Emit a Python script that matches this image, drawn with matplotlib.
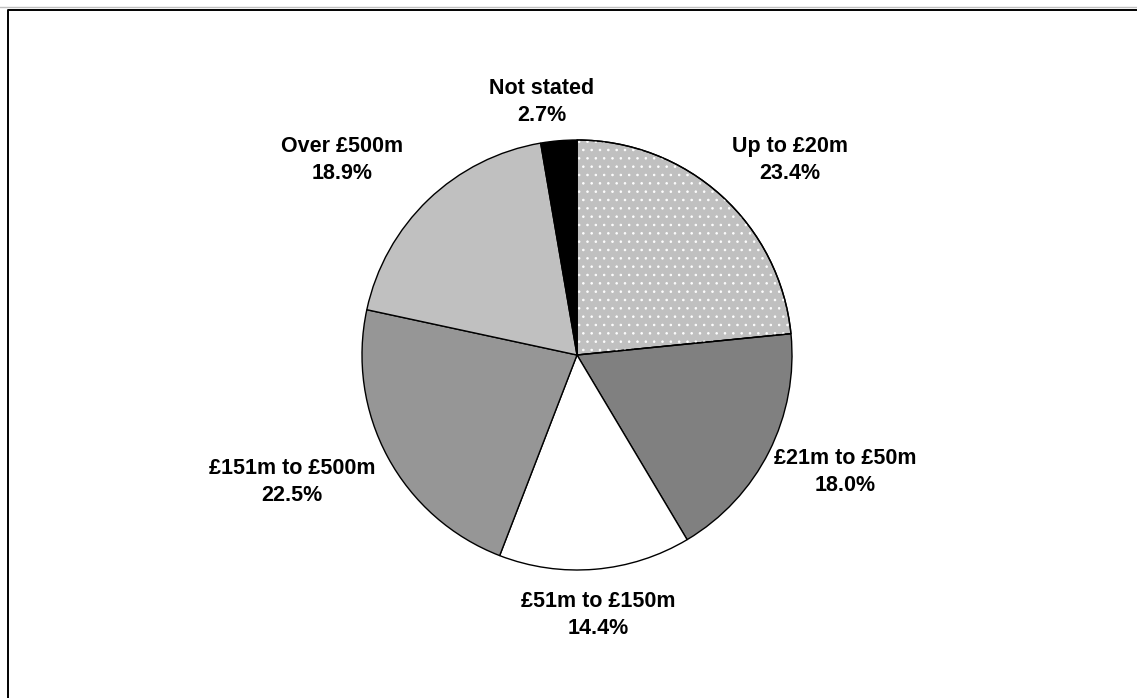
import matplotlib.pyplot as plt
from matplotlib.patches import Wedge

plt.rcParams['font.family'] = ['Liberation Sans', 'DejaVu Sans']
plt.rcParams['hatch.color'] = 'white'
plt.rcParams['hatch.linewidth'] = 0.6

# share of respondents by size band
bands = ['Up to £20m', '£21m to £50m', '£51m to £150m',
         '£151m to £500m', 'Over £500m', 'Not stated']
shares = [23.4, 18.0, 14.4, 22.5, 18.9, 2.7]
fills = ['#c0c0c0', '#808080', '#ffffff', '#969696', '#c0c0c0', '#000000']
dotted = [True, False, False, False, False, False]

W, H = 1137, 698
fig = plt.figure(figsize=(W / 100, H / 100), dpi=100)
ax = fig.add_axes([0, 0, 1, 1])

cx, cy, r = 577, 355, 215

# pie drawn clockwise from 12 o'clock (y axis is flipped, so angles go the other way)
wedges, _ = ax.pie(shares, colors=fills, startangle=-90, counterclock=True,
                   center=(cx, cy), radius=r, frame=True,
                   wedgeprops=dict(edgecolor='black', linewidth=1.0))
ax.set_xlim(0, W)
ax.set_ylim(H, 0)
ax.set_aspect('equal')
ax.axis('off')

for w, d in zip(wedges, dotted):
    if d:
        dots = Wedge(w.center, w.r, w.theta1, w.theta2, facecolor='none',
                     edgecolor='white', hatch='..', linewidth=0)
        ax.add_patch(dots)
        outline = Wedge(w.center, w.r, w.theta1, w.theta2, facecolor='none',
                        edgecolor='black', linewidth=1.0)
        ax.add_patch(outline)

# label positions (pixels)
label_xy = [(790, 160), (845, 472), (598, 615), (292, 482), (342, 160), (542, 102)]
for name, val, (x, y) in zip(bands, shares, label_xy):
    ax.text(x, y, f'{name}\n{val:.1f}%', ha='center', va='center',
            fontsize=15.5, fontweight='bold', linespacing=1.42)

# frame around the chart
ax.plot([0, W], [7.0, 7.0], color='#c0c0c0', lw=1.0, clip_on=False)
ax.plot([7.5, 7.5, W + 5], [H + 5, 9.5, 9.5], color='black', lw=1.4, clip_on=False)

fig.savefig('out.png', dpi=100)
